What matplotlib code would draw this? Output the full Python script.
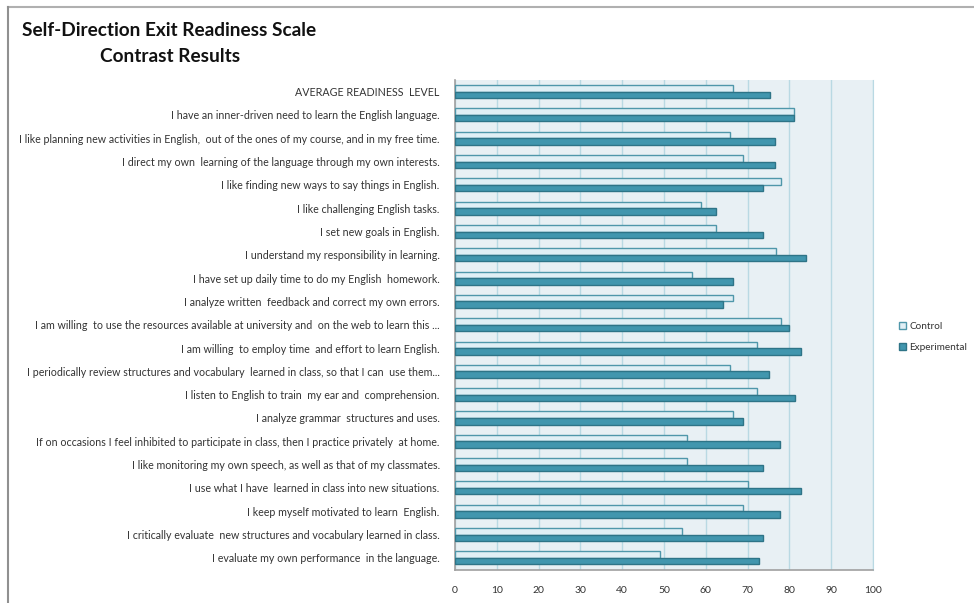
import matplotlib

matplotlib.use("Agg")
import matplotlib.pyplot as plt
from matplotlib.lines import Line2D
from matplotlib.patches import Patch
import numpy as np


# Statements, top to bottom as shown in the chart
STATEMENTS = [
    "AVERAGE READINESS  LEVEL",
    "I have an inner-driven need to learn the English language.",
    "I like planning new activities in English,  out of the ones of my course, and in my free time.",
    "I direct my own  learning of the language through my own interests.",
    "I like finding new ways to say things in English.",
    "I like challenging English tasks.",
    "I set new goals in English.",
    "I understand my responsibility in learning.",
    "I have set up daily time to do my English  homework.",
    "I analyze written  feedback and correct my own errors.",
    "I am willing  to use the resources available at university and  on the web to learn this ...",
    "I am willing  to employ time  and effort to learn English.",
    "I periodically review structures and vocabulary  learned in class, so that I can  use them...",
    "I listen to English to train  my ear and  comprehension.",
    "I analyze grammar  structures and uses.",
    "If on occasions I feel inhibited to participate in class, then I practice privately  at home.",
    "I like monitoring my own speech, as well as that of my classmates.",
    "I use what I have  learned in class into new situations.",
    "I keep myself motivated to learn  English.",
    "I critically evaluate  new structures and vocabulary learned in class.",
    "I evaluate my own performance  in the language.",
]

CONTROL = [66.4, 81.2, 65.7, 69.0, 77.9, 58.9, 62.5, 76.7, 56.7, 66.6, 77.9,
           72.3, 65.7, 72.3, 66.6, 55.5, 55.5, 70.2, 69.0, 54.3, 49.0]
EXPERIMENTAL = [75.4, 81.2, 76.5, 76.5, 73.8, 62.5, 73.8, 84.0, 66.4, 64.0, 80.0,
                82.8, 75.1, 81.3, 68.8, 77.7, 73.8, 82.8, 77.7, 73.8, 72.7]

X_TICKS = [0, 10, 20, 30, 40, 50, 60, 70, 80, 90, 100]

TITLE_LINE1 = "Self-Direction Exit Readiness Scale"
TITLE_LINE2 = "Contrast Results"
SERIES_NAMES = ["Control", "Experimental"]

CTRL_FILL = "#e0eff5"
CTRL_EDGE = "#4f97aa"
EXP_FILL = "#4196ae"
EXP_EDGE = "#2e7487"
PLOT_BG = "#e8f0f4"
GRID_COLOR = "#b9d9e3"
TEXT_COLOR = "#333333"


def main():
    plt.rcParams["font.family"] = ["Lato", "DejaVu Sans"]

    fig = plt.figure(figsize=(9.74, 6.03), dpi=100)
    ax = fig.add_axes([455 / 974, 1 - 569.5 / 603, 418 / 974, 489.5 / 603])
    ax.set_facecolor(PLOT_BG)

    y = np.arange(len(STATEMENTS))
    h = 0.28
    ax.barh(y - h / 2, CONTROL, height=h, color=CTRL_FILL, edgecolor=CTRL_EDGE,
            linewidth=1.0, zorder=3)
    ax.barh(y + h / 2, EXPERIMENTAL, height=h, color=EXP_FILL, edgecolor=EXP_EDGE,
            linewidth=1.0, zorder=3)

    ax.set_xlim(0, 100)
    ax.set_ylim(len(STATEMENTS) - 0.5, -0.5)
    ax.set_xticks(X_TICKS)
    ax.set_xticklabels([str(t) for t in X_TICKS], fontsize=7.5, color=TEXT_COLOR)
    ax.set_yticks(y)
    ax.set_yticklabels(STATEMENTS, fontsize=7.65, color=TEXT_COLOR)
    ax.tick_params(axis="y", length=0, pad=11)
    ax.tick_params(axis="x", length=0, pad=12)

    ax.xaxis.grid(True, color=GRID_COLOR, linewidth=1.0, zorder=0)
    ax.set_axisbelow(True)
    ax.spines["top"].set_visible(False)
    ax.spines["right"].set_color(GRID_COLOR)
    ax.spines["left"].set_color("#a0a0a0")
    ax.spines["bottom"].set_color("#a0a0a0")
    ax.spines["left"].set_linewidth(1.2)
    ax.spines["bottom"].set_linewidth(1.2)

    handles = [
        Patch(facecolor=CTRL_FILL, edgecolor=CTRL_EDGE, linewidth=1.0),
        Patch(facecolor=EXP_FILL, edgecolor=EXP_EDGE, linewidth=1.0),
    ]
    fig.legend(handles, SERIES_NAMES, loc="center left",
               bbox_to_anchor=(892 / 974, 1 - 337 / 603), frameon=False,
               fontsize=7.2, handlelength=0.7, handleheight=0.7,
               handletextpad=0.3, labelspacing=1.2, labelcolor=TEXT_COLOR,
               borderpad=0.2)

    fig.text(22 / 974, 1 - 31 / 603, TITLE_LINE1, fontsize=13.7, fontweight="bold",
             ha="left", va="center", color="#111111")
    fig.text(170 / 974, 1 - 56 / 603, TITLE_LINE2, fontsize=13.7, fontweight="bold",
             ha="center", va="center", color="#111111")

    # chart-area border (only top and left edges are visible)
    fig.add_artist(Line2D([8 / 974, 1.0], [1 - 7 / 603, 1 - 7 / 603],
                          transform=fig.transFigure, color="#b0b0b0", linewidth=1.5))
    fig.add_artist(Line2D([8 / 974, 8 / 974], [1 - 7 / 603, 0.0],
                          transform=fig.transFigure, color="#909090", linewidth=1.5))

    fig.savefig("out.png", dpi=100)
    plt.close(fig)


if __name__ == "__main__":
    main()
